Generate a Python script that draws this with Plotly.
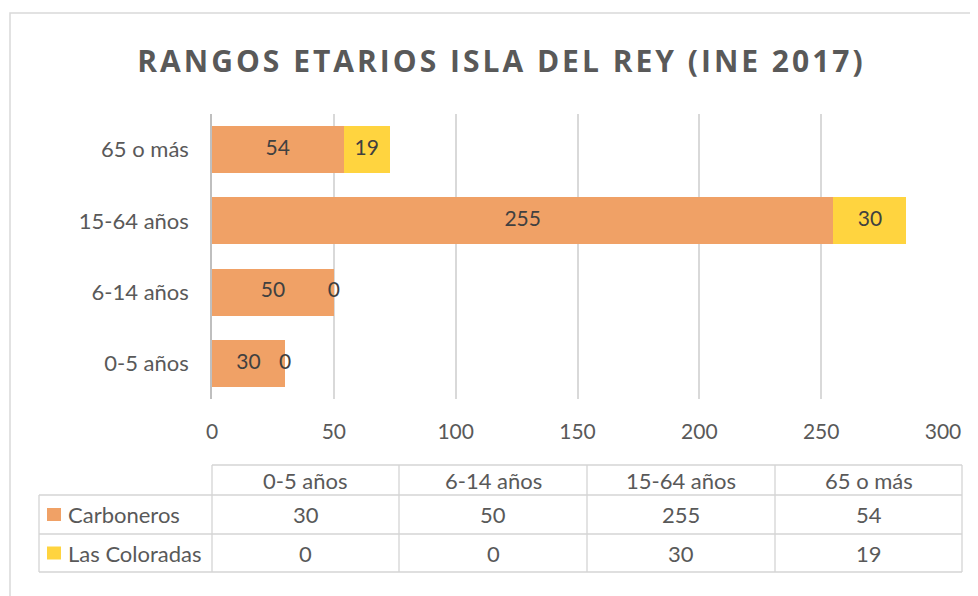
import plotly.graph_objects as go

categories = ["0-5 años", "6-14 años", "15-64 años", "65 o más"]
carboneros = [30, 50, 255, 54]
las_coloradas = [0, 0, 30, 19]
series_names = ["Carboneros", "Las Coloradas"]
x_ticks = [0, 50, 100, 150, 200, 250, 300]
title_text = "RANGOS ETARIOS ISLA DEL REY (INE 2017)"

C_ORANGE = "#F0A166"
C_YELLOW = "#FFD43F"
FONT = "Lato"
TXT = "#595959"
LBL = "#404040"
GRID = "#D9D9D9"

OFF = 8  # page body margin
W, H = 978 - OFF, 596 - OFF
# plot area in screen px
SL, SR, ST, SB = 212, 943, 114, 399
L, R, T, B = SL - OFF, SR - OFF, ST - OFF, SB - OFF


def px(x):  # screen px -> paper
    return (x - OFF - L) / (R - L)


def py(y):
    return (B - (y - OFF)) / (B - T)


fig = go.Figure()
fig.add_trace(go.Bar(y=categories, x=carboneros, orientation="h", name=series_names[0],
                     marker=dict(color=C_ORANGE, line=dict(width=0))))
fig.add_trace(go.Bar(y=categories, x=las_coloradas, orientation="h", name=series_names[1],
                     marker=dict(color=C_YELLOW, line=dict(width=0))))

# data labels from the data
mid1 = [c / 2 for c in carboneros]
mid2 = [c + v / 2 for c, v in zip(carboneros, las_coloradas)]
fig.add_trace(go.Scatter(y=categories, x=mid1, mode="text", text=[str(v) for v in carboneros],
                         textfont=dict(family=FONT, size=21, color=LBL), showlegend=False,
                         cliponaxis=False, hoverinfo="skip"))
fig.add_trace(go.Scatter(y=categories, x=mid2, mode="text", text=[str(v) for v in las_coloradas],
                         textfont=dict(family=FONT, size=21, color=LBL), showlegend=False,
                         cliponaxis=False, hoverinfo="skip"))

shapes = []
annotations = []

# outer chart border
shapes.append(dict(type="rect", xref="paper", yref="paper", x0=px(10), x1=px(1010), y0=py(13), y1=py(640),
                   line=dict(color=GRID, width=1.5), layer="below"))

# data table
col_x = [212, 399, 587, 775, 962]
row_y = [465, 495, 534, 572]
tbl_left = 39
line_style = dict(color="#D4D4D4", width=1.3)
shapes.append(dict(type="line", xref="paper", yref="paper", x0=px(col_x[0]), x1=px(col_x[-1]),
                   y0=py(row_y[0]), y1=py(row_y[0]), line=line_style))
for yy in row_y[1:]:
    shapes.append(dict(type="line", xref="paper", yref="paper", x0=px(tbl_left), x1=px(col_x[-1]),
                       y0=py(yy), y1=py(yy), line=line_style))
for xx in col_x:
    shapes.append(dict(type="line", xref="paper", yref="paper", x0=px(xx), x1=px(xx),
                       y0=py(row_y[0]), y1=py(row_y[-1]), line=line_style))
shapes.append(dict(type="line", xref="paper", yref="paper", x0=px(tbl_left), x1=px(tbl_left),
                   y0=py(row_y[1]), y1=py(row_y[-1]), line=line_style))

TBL_FONT = dict(family=FONT, size=22, color=TXT)
for i, cat in enumerate(categories):
    cx = (col_x[i] + col_x[i + 1]) / 2
    cy = (row_y[0] + row_y[1]) / 2
    annotations.append(dict(xref="paper", yref="paper", x=px(cx), y=py(cy), text=cat, showarrow=False,
                            xanchor="center", yanchor="middle", font=TBL_FONT))

series_vals = [carboneros, las_coloradas]
series_cols = [C_ORANGE, C_YELLOW]
for r, (name, vals, col) in enumerate(zip(series_names, series_vals, series_cols)):
    cy = (row_y[r + 1] + row_y[r + 2]) / 2
    shapes.append(dict(type="rect", xref="paper", yref="paper", x0=px(47), x1=px(61),
                       y0=py(cy - 6.5), y1=py(cy + 6.5), fillcolor=col, line=dict(width=0)))
    annotations.append(dict(xref="paper", yref="paper", x=px(66), y=py(cy), text=name, showarrow=False,
                            xanchor="left", yanchor="middle", font=TBL_FONT))
    for i, v in enumerate(vals):
        cx = (col_x[i] + col_x[i + 1]) / 2
        annotations.append(dict(xref="paper", yref="paper", x=px(cx), y=py(cy), text=str(v), showarrow=False,
                                xanchor="center", yanchor="middle", font=TBL_FONT))

spaced_title = "\u200a".join(title_text)

fig.update_layout(
    width=W, height=H,
    margin=dict(l=L, r=W - R, t=T, b=H - B, pad=0),
    paper_bgcolor="white", plot_bgcolor="white",
    barmode="stack", bargap=0.34,
    showlegend=False,
    title=dict(text="<b>" + spaced_title + "</b>", x=px(500), xref="paper", xanchor="center",
               y=1 - (61 - OFF) / H, yanchor="middle",
               font=dict(family="Open Sans", size=30, color=TXT)),
    xaxis=dict(range=[0, 300], tickvals=x_ticks, ticktext=[str(t) for t in x_ticks],
               showgrid=True, gridcolor=GRID, gridwidth=1.5, zeroline=False, showline=False,
               ticks="", ticklabelstandoff=18,
               tickfont=dict(family=FONT, size=21, color=TXT), fixedrange=True),
    yaxis=dict(categoryorder="array", categoryarray=categories, showgrid=False, zeroline=False,
               showline=True, linecolor="#BFBFBF", linewidth=1.5, ticks="", ticklabelstandoff=17,
               tickfont=dict(family=FONT, size=22, color=TXT), fixedrange=True),
    shapes=shapes, annotations=annotations,
)

fig.write_html("out.html")
